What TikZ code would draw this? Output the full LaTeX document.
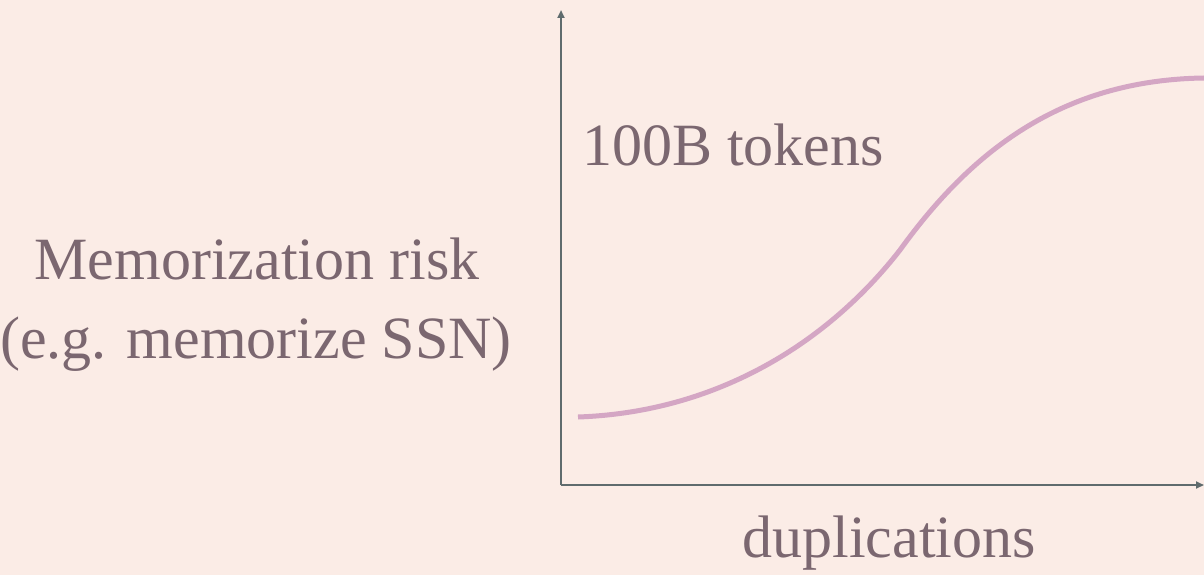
\documentclass[tikz,border=0pt]{standalone}
\usepackage{fontspec}
\setmainfont{Liberation Serif}
\usetikzlibrary{arrows.meta,positioning}
\definecolor{bgpink}{HTML}{FBECE6}
\definecolor{axisgray}{HTML}{5F6B6D}
\definecolor{curvepink}{HTML}{D4A6C4}
\definecolor{labelmauve}{HTML}{7B6770}
\tikzset{
  axisline/.style={draw=axisgray, line width=2pt, -{Triangle[length=8pt,width=7pt]}},
  riskcurve/.style={draw=curvepink, line width=5pt},
  lbl/.style={text=labelmauve, font=\fontsize{60}{68}\selectfont, inner sep=0pt, anchor=base}
}

\begin{document}
\begin{tikzpicture}[x=1pt,y=-1pt]
\fill[bgpink] (0,0) rectangle (1204,575);
\useasboundingbox (0,0) rectangle (1204,575);

% axes
\coordinate (origin) at (561,485);
\coordinate (ytop) at (561,10);
\coordinate (xend) at (1204,485);
\draw[axisline] (origin) -- (ytop);
\draw[axisline] (origin) -- (xend);

% sigmoid
\draw[riskcurve] (578,417) .. controls (720,412) and (830,340) .. (900,250)
  .. controls (970,153) and (1060,80) .. (1204,78);

% labels
\node[lbl] (risk) at (257,279) {Memorization risk};
\node[lbl] (riskeg) at (256,358) {(e.g. memorize SSN)};
\node[lbl, anchor=base west] (tokens) at (582,165) {100B tokens};
\node[lbl] (dup) at (889,557) {duplications};
\end{tikzpicture}
\end{document}
